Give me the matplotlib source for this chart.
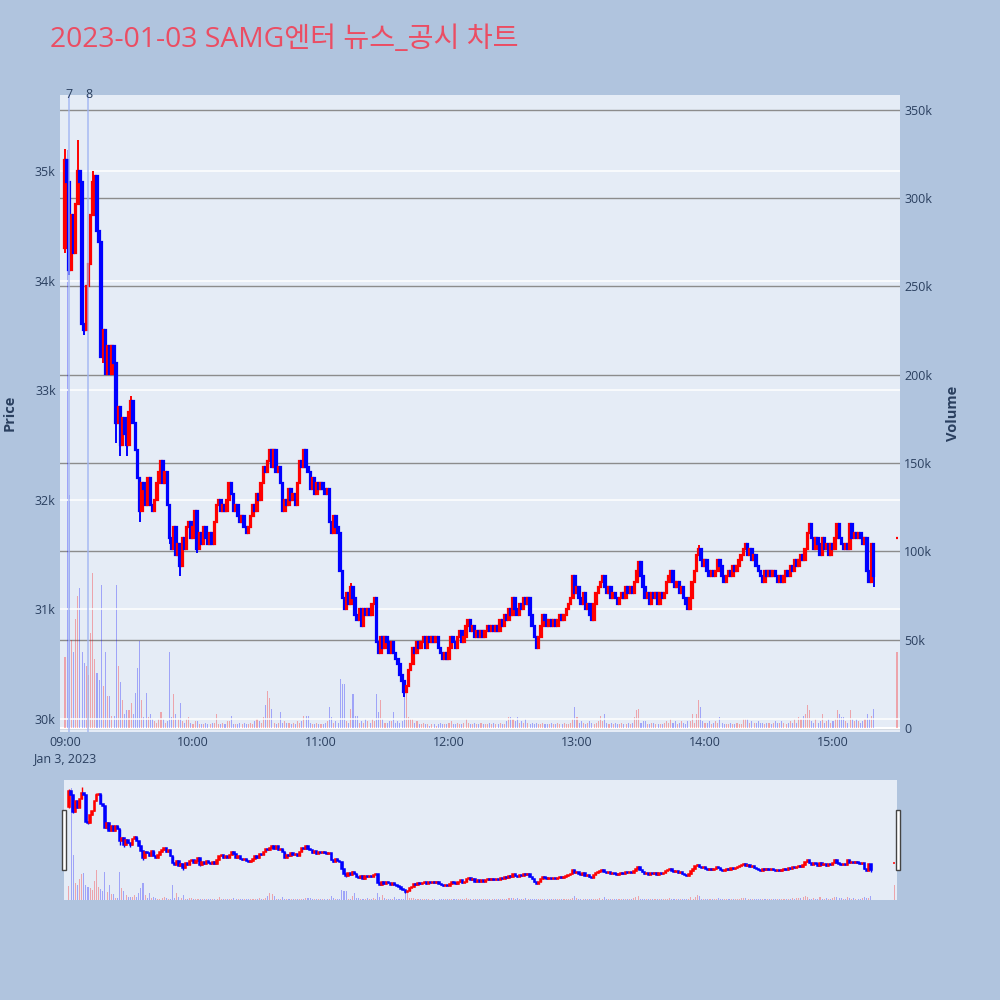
import matplotlib
matplotlib.use('Agg')
import matplotlib.pyplot as plt
from matplotlib.patches import Rectangle
import numpy as np

plt.rcParams['font.family'] = ['Open Sans', 'Noto Sans CJK KR', 'DejaVu Sans']

title = "2023-01-03 SAMG엔터 뉴스_공시 차트"

# ---- data (minutes after 09:00) ----
first_open = 34300
closes = [
    35100, 34900, 34100, 34600, 34250, 34700, 35000, 34900, 33600, 33550,
    33950, 34150, 34600, 34900, 34950, 34450, 34350, 33300, 33550, 33150,
    33400, 33150, 33400, 33250, 32700, 32850, 32500, 32750, 32600, 32500,
    32800, 32900, 32700, 32450, 32200, 31900, 32150, 32100, 31950, 32200,
    31950, 31900, 32000, 32150, 32250, 32350, 32150, 32250, 31950, 31650,
    31550, 31750, 31500, 31600, 31400, 31650, 31550, 31750, 31800, 31650,
    31750, 31900, 31550, 31700, 31600, 31750, 31650, 31600, 31700, 31600,
    31800, 31950, 32000, 31900, 31950, 31900, 32000, 32150, 32050, 31900,
    31950, 31850, 31800, 31850, 31750, 31700, 31750, 31850, 31950, 31900,
    32050, 32000, 32150, 32300, 32250, 32350, 32450, 32300, 32450, 32250,
    32300, 32150, 31900, 32000, 31950, 32100, 32000, 32050, 31950, 32150,
    32350, 32300, 32450, 32300, 32250, 32100, 32200, 32050, 32150, 32100,
    32150, 32100, 32050, 32100, 31800, 31700, 31850, 31750, 31700, 31350,
    31100, 31000, 31150, 31050, 31200, 31100, 30950, 30900, 31000, 30850,
    31000, 30950, 31000, 30950, 31050, 31100, 30700, 30600, 30750, 30650,
    30750, 30700, 30600, 30700, 30600, 30550, 30500, 30400, 30350, 30250,
    30300, 30450, 30500, 30650, 30600, 30700, 30650, 30700, 30750, 30650,
    30750, 30700, 30750, 30700, 30750, 30650, 30600, 30550, 30600, 30550,
    30650, 30750, 30700, 30650, 30750, 30800, 30700, 30750, 30850, 30900,
    30800, 30850, 30750, 30800, 30750, 30800, 30750, 30800, 30850, 30800,
    30850, 30800, 30850, 30800, 30900, 30850, 30950, 30900, 31000, 30950,
    31100, 31000, 30950, 31050, 31000, 31100, 31050, 31100, 30950, 30850,
    30750, 30650, 30750, 30850, 30950, 30900, 30850, 30900, 30850, 30900,
    30850, 30900, 30950, 30900, 30950, 31000, 31050, 31100, 31300, 31150,
    31200, 31100, 31050, 31150, 31000, 31050, 30950, 30900, 31050, 31150,
    31200, 31250, 31300, 31200, 31150, 31200, 31100, 31150, 31100, 31050,
    31100, 31150, 31100, 31200, 31150, 31200, 31150, 31250, 31350, 31430,
    31300, 31200, 31100, 31150, 31050, 31150, 31100, 31150, 31050, 31150,
    31100, 31150, 31250, 31300, 31350, 31250, 31200, 31250, 31150, 31200,
    31100, 31050, 31000, 31100, 31250, 31350, 31500, 31550, 31450, 31400,
    31450, 31350, 31300, 31350, 31300, 31350, 31450, 31400, 31300, 31250,
    31300, 31350, 31300, 31400, 31350, 31400, 31450, 31500, 31550, 31600,
    31500, 31550, 31450, 31500, 31400, 31350, 31300, 31250, 31350, 31300,
    31350, 31300, 31350, 31300, 31250, 31300, 31250, 31300, 31350, 31300,
    31400, 31350, 31450, 31400, 31450, 31500, 31450, 31550, 31700, 31780,
    31650, 31550, 31650, 31600, 31500, 31650, 31550, 31600, 31500, 31600,
    31550, 31650, 31780, 31650, 31600, 31550, 31600, 31550, 31780, 31650,
    31700, 31650, 31700, 31650, 31600, 31650, 31350, 31250, 31600, 31300,
]
auction_minute = 390          # 15:30 closing auction
auction_price = 31650

wick_high = {0: 35200, 6: 35280, 13: 35000, 31: 32950, 98: 32460, 134: 31240,
             297: 31590, 349: 31790, 362: 31790, 368: 31790}
wick_low = {0: 34250, 2: 34050, 9: 33500, 18: 33250, 24: 32520, 26: 32400,
            29: 32400, 35: 31800, 49: 31600, 54: 31300, 62: 31510, 131: 30990,
            159: 30200, 221: 30640, 379: 31200}

volumes_k = [
    40, 327, 132, 50, 43, 62, 75, 79, 43, 37,
    35, 30, 54, 88, 39, 31, 27, 81, 24, 43,
    18, 18, 7, 7, 81, 35, 26, 16, 8, 10,
    10, 14, 8, 20, 34, 49, 16, 6, 20, 6,
    8, 5, 4, 3, 5, 9, 5, 3, 4, 43,
    6, 19, 8, 5, 14, 4, 3, 5, 6, 3,
    2, 4, 4, 2, 2, 2, 3, 2, 2, 3,
    3, 8, 2, 2, 3, 2, 4, 4, 7, 2,
    2, 2, 3, 2, 3, 2, 2, 3, 2, 4,
    5, 4, 3, 6, 13, 21, 17, 11, 3, 2,
    3, 9, 3, 4, 3, 3, 2, 3, 2, 4,
    3, 4, 7, 7, 7, 3, 2, 2, 3, 2,
    2, 2, 3, 4, 12, 6, 3, 4, 3, 28,
    25, 25, 4, 3, 11, 19, 7, 7, 3, 4,
    3, 5, 4, 3, 5, 4, 19, 9, 16, 5,
    3, 3, 4, 4, 9, 3, 4, 3, 4, 25,
    22, 6, 5, 5, 3, 4, 2, 2, 3, 2,
    2, 1, 2, 2, 1, 2, 3, 2, 2, 2,
    3, 4, 2, 2, 3, 2, 2, 3, 5, 3,
    2, 2, 3, 2, 2, 3, 2, 2, 2, 3,
    2, 3, 2, 2, 3, 2, 2, 4, 6, 6,
    5, 4, 6, 3, 4, 3, 5, 3, 2, 3,
    2, 3, 2, 2, 3, 2, 2, 2, 3, 2,
    2, 3, 2, 2, 3, 2, 2, 3, 5, 12,
    6, 3, 4, 3, 2, 3, 4, 3, 2, 3,
    4, 7, 4, 8, 3, 2, 3, 2, 3, 2,
    2, 3, 2, 2, 3, 2, 3, 6, 10, 11,
    3, 4, 4, 2, 2, 3, 3, 2, 2, 2,
    2, 3, 4, 3, 5, 3, 4, 2, 3, 4,
    3, 2, 4, 4, 8, 3, 8, 16, 12, 4,
    3, 3, 4, 2, 3, 4, 3, 6, 3, 2,
    2, 2, 3, 2, 2, 3, 2, 2, 5, 5,
    5, 3, 4, 3, 3, 4, 3, 3, 2, 3,
    3, 2, 3, 4, 3, 3, 4, 3, 2, 3,
    4, 3, 5, 3, 6, 5, 7, 8, 13, 10,
    4, 3, 5, 3, 4, 8, 3, 4, 5, 3,
    4, 5, 10, 8, 6, 6, 4, 3, 10, 5,
    4, 5, 4, 3, 4, 5, 8, 5, 7, 11,
]
auction_volume_k = 43

news_minutes = [2, 11]
news_labels = ['7', '8']

xtick_minutes = [0, 60, 120, 180, 240, 300, 360]
xtick_labels = ['09:00\nJan 3, 2023', '10:00', '11:00', '12:00', '13:00', '14:00', '15:00']
price_ticks = [30000, 31000, 32000, 33000, 34000, 35000]
price_labels = ['30k', '31k', '32k', '33k', '34k', '35k']
vol_ticks = [0, 50000, 100000, 150000, 200000, 250000, 300000, 350000]
vol_labels = ['0', '50k', '100k', '150k', '200k', '250k', '300k', '350k']

# ---- build OHLC ----
minutes = np.array(list(range(len(closes))) + [auction_minute], dtype=float)
O = np.array([first_open] + closes[:-1] + [auction_price], dtype=float)
C = np.array(closes + [auction_price], dtype=float)
H = np.maximum(O, C)
L = np.minimum(O, C)
for k, v in wick_high.items():
    H[k] = v
for k, v in wick_low.items():
    L[k] = v
V = np.array(volumes_k + [auction_volume_k], dtype=float) * 1000
up = C >= O
ccol = np.where(up, '#ff0000', '#0000ff')

BG = '#b0c4de'
PLOT_BG = '#e5ecf6'
TXT = '#2a3f5f'
XLIM = (-2.34, 391.4)
PLIM = (29881, 35693)
VLIM = (-2260, 358400)

fig = plt.figure(figsize=(10, 10), dpi=100, facecolor=BG)


def draw(axp, axv, body_w, body_lw, wick_lw, vol_w):
    axv.bar(minutes, V, width=vol_w, color=ccol, alpha=0.3, linewidth=0, zorder=2)
    axp.vlines(minutes, L, H, colors=ccol, linewidth=wick_lw, zorder=3)
    axp.bar(minutes, np.maximum(np.abs(C - O), 1.0), bottom=np.minimum(O, C),
            width=body_w, color=ccol, edgecolor=ccol, linewidth=body_lw, zorder=4)


# ---- main chart ----
axp = fig.add_axes([0.060, 0.268, 0.840, 0.637])
axv = axp.twinx()
axv.set_zorder(0)
axp.set_zorder(1)
axp.patch.set_visible(False)
axv.patch.set_visible(True)
axv.patch.set_facecolor(PLOT_BG)

draw(axp, axv, 0.75, 1.6, 1.4, 0.5)

axp.set_xlim(*XLIM)
axp.set_ylim(*PLIM)
axv.set_ylim(*VLIM)

axp.set_yticks(price_ticks)
axp.set_yticklabels(price_labels)
axv.set_yticks(vol_ticks)
axv.set_yticklabels(vol_labels)
axp.set_xticks(xtick_minutes)
axp.set_xticklabels(xtick_labels)

axp.grid(axis='y', color='white', linewidth=1.1, zorder=1)
axp.set_axisbelow(True)
axv.grid(axis='y', color='#8c8c8c', linewidth=1.0)
axv.set_axisbelow(True)
axv.axhline(0, color='white', linewidth=1.5, zorder=1)

for a in (axp, axv):
    for s in a.spines.values():
        s.set_visible(False)
axp.tick_params(axis='both', length=0, labelsize=9, labelcolor=TXT)
axp.tick_params(axis='x', pad=3)
axp.tick_params(axis='y', pad=3)
axv.tick_params(axis='y', length=0, labelsize=9, labelcolor=TXT, pad=3)
for lab in axp.get_xticklabels():
    lab.set_linespacing(1.25)

# news lines
for m, lab in zip(news_minutes, news_labels):
    axp.axvline(m, color='#9fb3f2', linewidth=1.3, alpha=0.75, zorder=5)
    axp.text(m, 1.0, lab, transform=axp.get_xaxis_transform(), ha='center',
             va='center', fontsize=9, color=TXT, zorder=6, clip_on=False)

fig.text(0.010, 0.587, 'Price', rotation=90, ha='center', va='center',
         fontsize=10.5, fontweight='bold', color=TXT)
fig.text(0.953, 0.587, 'Volume', rotation=90, ha='center', va='center',
         fontsize=10.5, fontweight='bold', color=TXT)

fig.text(0.050, 0.960, title, ha='left', va='center', fontsize=20.3, color='#eb4d63')

# ---- range slider ----
axs = fig.add_axes([0.064, 0.100, 0.833, 0.120])
axsv = axs.twinx()
axsv.set_zorder(0)
axs.set_zorder(1)
axs.patch.set_visible(False)
axsv.patch.set_visible(True)
axsv.patch.set_facecolor(PLOT_BG)
draw(axs, axsv, 0.7, 1.1, 1.0, 0.5)
axs.set_xlim(*XLIM)
axs.set_ylim(29865, 35615)
axsv.set_ylim(0, 350000)
for a in (axs, axsv):
    a.set_xticks([])
    a.set_yticks([])
    for s in a.spines.values():
        s.set_visible(False)

for hx in (0.0615, 0.8960):
    fig.patches.append(Rectangle((hx, 0.130), 0.004, 0.060, transform=fig.transFigure,
                                 facecolor='white', edgecolor='#444444', linewidth=1.0,
                                 zorder=10))

fig.savefig('out.png', dpi=100, facecolor=BG)
